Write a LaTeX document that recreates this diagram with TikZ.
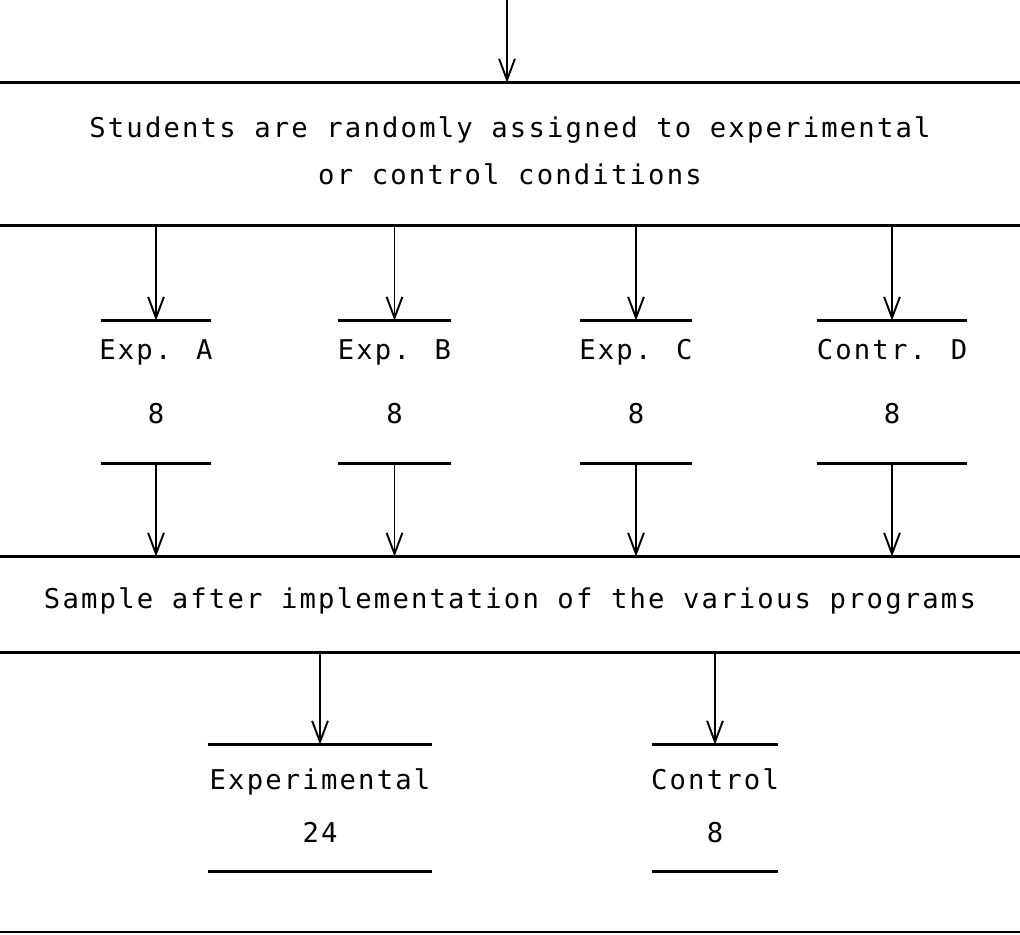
\documentclass[tikz,border=0pt]{standalone}
\usepackage{fontspec}
\newfontfamily\typed[LetterSpace=8]{DejaVu Sans Mono}
\usetikzlibrary{positioning}
\usetikzlibrary{arrows.meta}

\begin{document}
\begin{tikzpicture}[x=0.02cm,y=-0.02cm,
  every node/.style={font=\typed\fontsize{15.5}{26.6}\selectfont},
  band/.style={minimum width=20.4cm,inner sep=0pt},
  cell/.style={inner sep=0pt,minimum height=2.84cm},
  rule/.style={line width=1.5pt},
  arr/.style={-{Straight Barb[length=12pt,width=9pt,line width=1.1pt]},line width=0.8pt}]
\useasboundingbox (0,0) rectangle (1020,934);

% bands across the page
\node (assign) [band,minimum height=2.84cm] at (510,154) {};
\node (sample) [band,minimum height=1.9cm] at (510,604.5) {};
\node [anchor=base,align=center] at ([yshift=-2.04cm]assign.north)
  {Students are randomly assigned to experimental\\or control conditions};
\node [anchor=base] at ([yshift=-1.04cm]sample.north)
  {Sample after implementation of the various programs};
\foreach \b in {assign,sample}
  \draw[rule] (\b.north west) -- (\b.north east) (\b.south west) -- (\b.south east);
\coordinate (endw) at (0,932);
\coordinate (ende) at (1020,932);
\draw[line width=1.1pt] (endw) -- (ende);

% the four groups
\node (boxA) [cell,minimum width=2.2cm] at (156,392) {};
\node (boxB) [cell,minimum width=2.26cm] at (394.5,392) {};
\node (boxC) [cell,minimum width=2.24cm] at (636,392) {};
\node (boxD) [cell,minimum width=3cm] at (892,392) {};
\foreach \b/\t in {boxA/Exp. A,boxB/Exp. B,boxC/Exp. C,boxD/Contr. D} {
  \node [anchor=base] at ([yshift=-0.78cm]\b.north) {\t};
  \node [anchor=base] at ([yshift=0.8cm]\b.south) {8};
  \draw[rule] (\b.north west) -- (\b.north east) (\b.south west) -- (\b.south east);
  \draw[arr] (assign.south -| \b.north) -- (\b.north);
  \draw[arr] (\b.south) -- (\b.south |- sample.north);
}

% the two samples
\node (boxE) [cell,minimum width=4.48cm,minimum height=2.52cm] at (320,808) {};
\node (boxF) [cell,minimum width=2.52cm,minimum height=2.52cm] at (715,808) {};
\foreach \b/\t/\n in {boxE/Experimental/24,boxF/Control/8} {
  \node [anchor=base] at ([yshift=-0.9cm]\b.north) {\t};
  \node [anchor=base] at ([yshift=0.58cm]\b.south) {\n};
  \draw[rule] (\b.north west) -- (\b.north east) (\b.south west) -- (\b.south east);
  \draw[arr] (sample.south -| \b.north) -- (\b.north);
}

% entry from above
\coordinate (entry) at (507,0);
\draw[arr] (entry) -- (entry |- assign.north);
\end{tikzpicture}
\end{document}
